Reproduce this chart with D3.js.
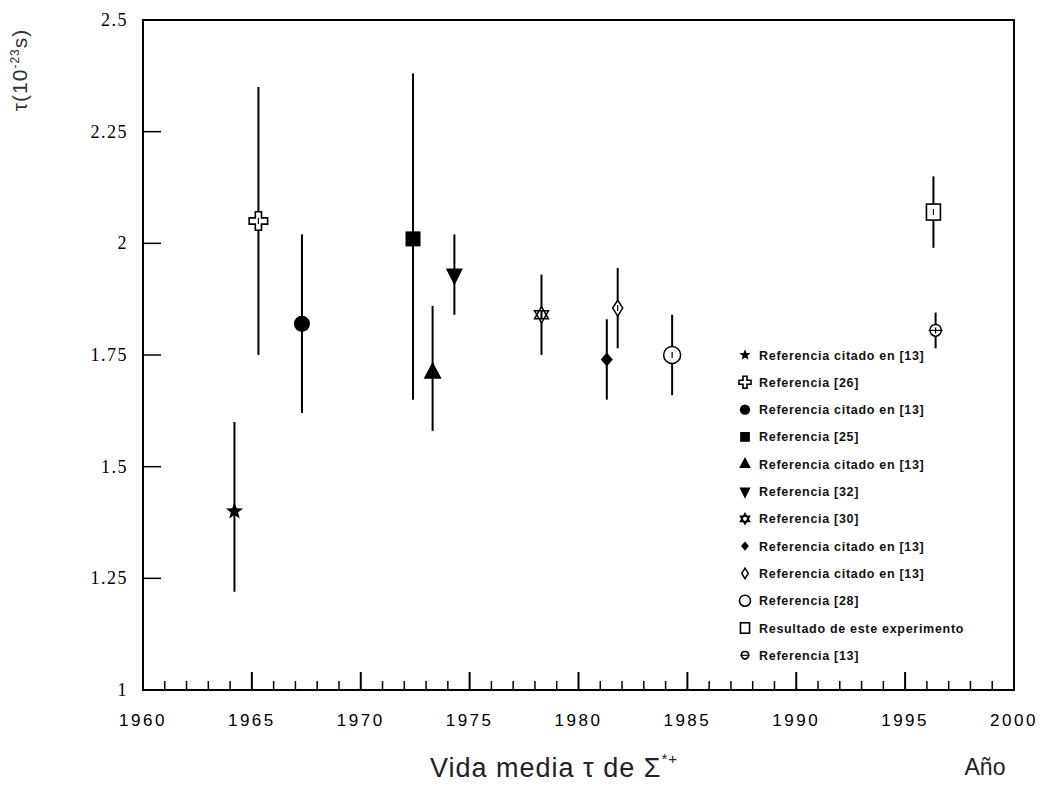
<!DOCTYPE html>
<html>
<head>
<meta charset="utf-8">
<script src="https://cdn.jsdelivr.net/npm/d3@7"></script>
<style>
  body { margin: 0; background: #fff; }
  svg { display: block; }
</style>
</head>
<body>
<svg id="chart" width="1043" height="797"></svg>
<script>
// ---- data ----
const years   = [1964.2, 1965.3, 1967.3, 1972.4, 1973.3, 1974.3, 1978.3, 1981.3, 1981.8, 1984.3, 1996.3, 1996.4];
const values  = [1.40,   2.05,   1.82,   2.01,   1.71,   1.93,   1.84,   1.74,   1.855,  1.75,   2.07,   1.805];
const errUp   = [0.20,   0.30,   0.20,   0.37,   0.15,   0.09,   0.09,   0.09,   0.09,   0.09,   0.08,   0.04];
const errDown = [0.18,   0.30,   0.20,   0.36,   0.13,   0.09,   0.09,   0.09,   0.09,   0.09,   0.08,   0.04];
const symbolKinds = ["star", "openCross", "circle", "square", "triUp", "triDown", "david", "diamond", "openDiamond", "openCircle", "openSquare", "ref13"];
const legendLabels = [
  "Referencia citado en [13]",
  "Referencia [26]",
  "Referencia citado en [13]",
  "Referencia [25]",
  "Referencia citado en [13]",
  "Referencia [32]",
  "Referencia [30]",
  "Referencia citado en [13]",
  "Referencia citado en [13]",
  "Referencia [28]",
  "Resultado de este experimento",
  "Referencia [13]"
];
const xTickLabels = [1960, 1965, 1970, 1975, 1980, 1985, 1990, 1995, 2000];
const yTickLabels = ["1", "1.25", "1.5", "1.75", "2", "2.25", "2.5"];
const yTickValues = [1, 1.25, 1.5, 1.75, 2, 2.25, 2.5];

// ---- layout ----
const svg = d3.select("#chart");
const L = 143, R = 1014, T = 20, B = 690;
const x = d3.scaleLinear().domain([1960, 2000]).range([L, R]);
const y = d3.scaleLinear().domain([1, 2.5]).range([B, T]);

// frame
svg.append("rect").attr("x", L).attr("y", T).attr("width", R - L).attr("height", B - T)
  .attr("fill", "none").attr("stroke", "#000").attr("stroke-width", 2);

// x ticks (inward, minor every year)
const xMinor = d3.range(1961, 2000, 1);
svg.append("g").selectAll("line").data(xMinor).join("line")
  .attr("x1", d => x(d)).attr("x2", d => x(d))
  .attr("y1", B).attr("y2", d => B - (d % 5 === 0 ? 18 : 9))
  .attr("stroke", "#000").attr("stroke-width", d => d % 5 === 0 ? 2 : 1.5);

// x tick labels
svg.append("g").selectAll("text").data(xTickLabels).join("text")
  .attr("x", d => x(d)).attr("y", 726)
  .attr("text-anchor", "middle")
  .attr("font-family", "Liberation Sans, Arial, sans-serif")
  .attr("font-size", 17).attr("letter-spacing", 2.5)
  .text(d => d);

// y ticks inward
svg.append("g").selectAll("line").data(yTickValues).join("line")
  .attr("x1", L).attr("x2", L + 18)
  .attr("y1", d => y(d)).attr("y2", d => y(d))
  .attr("stroke", "#000").attr("stroke-width", 1.5);

// y tick labels
svg.append("g").selectAll("text").data(yTickValues).join("text")
  .attr("x", 128).attr("y", d => y(d) + 6)
  .attr("text-anchor", "end")
  .attr("font-family", "Liberation Serif, Times New Roman, serif")
  .attr("font-size", 18).attr("letter-spacing", 1.5)
  .text((d, i) => yTickLabels[i]);

// axis titles
const yt = svg.append("text")
  .attr("transform", "translate(27,70) rotate(-90)")
  .attr("text-anchor", "middle")
  .attr("font-family", "Liberation Sans, Arial, sans-serif")
  .attr("font-size", 21).attr("letter-spacing", 1).attr("fill", "#333");
yt.append("tspan").text("τ(10");
yt.append("tspan").attr("dy", -8).attr("font-size", 12).text("-23");
yt.append("tspan").attr("dy", 8).text("s)");

const xt = svg.append("text")
  .attr("x", 554).attr("y", 777)
  .attr("text-anchor", "middle")
  .attr("font-family", "Liberation Sans, Arial, sans-serif")
  .attr("font-size", 27).attr("letter-spacing", 1).attr("fill", "#222");
xt.append("tspan").text("Vida media τ de Σ");
xt.append("tspan").attr("dy", -13).attr("font-size", 15).text("*+");

svg.append("text").attr("x", 985).attr("y", 775)
  .attr("text-anchor", "middle")
  .attr("font-family", "Liberation Sans, Arial, sans-serif")
  .attr("font-size", 23).attr("fill", "#222")
  .text("Año");

// ---- symbol drawing ----
function starPath(r, n, inner) {
  const pts = [];
  for (let i = 0; i < 2 * n; i++) {
    const a = -Math.PI / 2 + i * Math.PI / n;
    const rr = i % 2 === 0 ? r : r * inner;
    pts.push([rr * Math.cos(a), rr * Math.sin(a)]);
  }
  return "M" + pts.map(p => p[0].toFixed(2) + "," + p[1].toFixed(2)).join("L") + "Z";
}
function drawSymbol(g, kind, scale) {
  const s = scale || 1;
  switch (kind) {
    case "star":
      g.append("path").attr("d", starPath(9 * s, 5, 0.42)).attr("fill", "#000");
      break;
    case "openCross":
      g.append("path").attr("d", d3.symbol(d3.symbolCross, 190 * s * s)()).attr("fill", "#fff")
        .attr("stroke", "#000").attr("stroke-width", 1.6);
      break;
    case "circle":
      g.append("circle").attr("r", 8 * s).attr("fill", "#000");
      break;
    case "square":
      g.append("rect").attr("x", -7.5 * s).attr("y", -7.5 * s).attr("width", 15 * s).attr("height", 15 * s).attr("fill", "#000");
      break;
    case "triUp":
      g.append("path").attr("d", `M0,${-11 * s}L${9 * s},${6 * s}L${-9 * s},${6 * s}Z`).attr("fill", "#000");
      break;
    case "triDown":
      g.append("path").attr("d", `M0,${11 * s}L${8.5 * s},${-6 * s}L${-8.5 * s},${-6 * s}Z`).attr("fill", "#000");
      break;
    case "david":
      g.append("path").attr("d", `M0,${-8 * s}L${7 * s},${4 * s}L${-7 * s},${4 * s}Z M0,${8 * s}L${7 * s},${-4 * s}L${-7 * s},${-4 * s}Z`)
        .attr("fill", "#fff").attr("stroke", "#000").attr("stroke-width", 1.5);
      break;
    case "diamond":
      g.append("path").attr("d", `M0,${-7 * s}L${6 * s},0L0,${7 * s}L${-6 * s},0Z`).attr("fill", "#000");
      break;
    case "openDiamond":
      g.append("path").attr("d", `M0,${-8 * s}L${5 * s},0L0,${8 * s}L${-5 * s},0Z`).attr("fill", "#fff")
        .attr("stroke", "#000").attr("stroke-width", 1.5);
      break;
    case "openCircle":
      g.append("circle").attr("r", 8.5 * s).attr("fill", "#fff").attr("stroke", "#000").attr("stroke-width", 1.5);
      break;
    case "openSquare":
      g.append("rect").attr("x", -7 * s).attr("y", -8 * s).attr("width", 14 * s).attr("height", 16 * s)
        .attr("fill", "#fff").attr("stroke", "#000").attr("stroke-width", 1.6);
      break;
    case "ref13":
      g.append("path").attr("d", `M0,${-6 * s}C${7 * s},${-6 * s} ${8 * s},${4 * s} 0,${6 * s}C${-8 * s},${4 * s} ${-7 * s},${-6 * s} 0,${-6 * s}Z`)
        .attr("fill", "#fff").attr("stroke", "#000").attr("stroke-width", 1.5);
      g.append("line").attr("x1", -7 * s).attr("x2", 7 * s).attr("y1", 0).attr("y2", 0).attr("stroke", "#000").attr("stroke-width", 1.2);
      break;
  }
}

// ---- error bars and markers ----
const pts = svg.append("g");
years.forEach((yr, i) => {
  pts.append("line")
    .attr("x1", x(yr)).attr("x2", x(yr))
    .attr("y1", y(values[i] + errUp[i])).attr("y2", y(values[i] - errDown[i]))
    .attr("stroke", "#000").attr("stroke-width", 2);
});
const openKinds = ["openCross", "openDiamond", "openCircle", "openSquare", "ref13", "david"];
years.forEach((yr, i) => {
  const g = pts.append("g").attr("transform", `translate(${x(yr)},${y(values[i])})`);
  drawSymbol(g, symbolKinds[i], 1);
  if (openKinds.includes(symbolKinds[i])) {
    g.append("line").attr("x1", 0).attr("x2", 0).attr("y1", -3).attr("y2", 3).attr("stroke", "#000").attr("stroke-width", 1.2);
  }
});

// ---- legend ----
const leg = svg.append("g");
legendLabels.forEach((lab, i) => {
  const yy = 355 + i * 27.3;
  const g = leg.append("g").attr("transform", `translate(745,${yy})`);
  drawSymbol(g, symbolKinds[i], 0.65);
  leg.append("text").attr("x", 759).attr("y", yy + 4.5)
    .attr("font-family", "Liberation Sans, Arial, sans-serif")
    .attr("font-size", 12.5).attr("font-weight", "bold").attr("fill", "#111")
    .attr("letter-spacing", 0.7)
    .text(lab);
});
</script>
</body>
</html>
